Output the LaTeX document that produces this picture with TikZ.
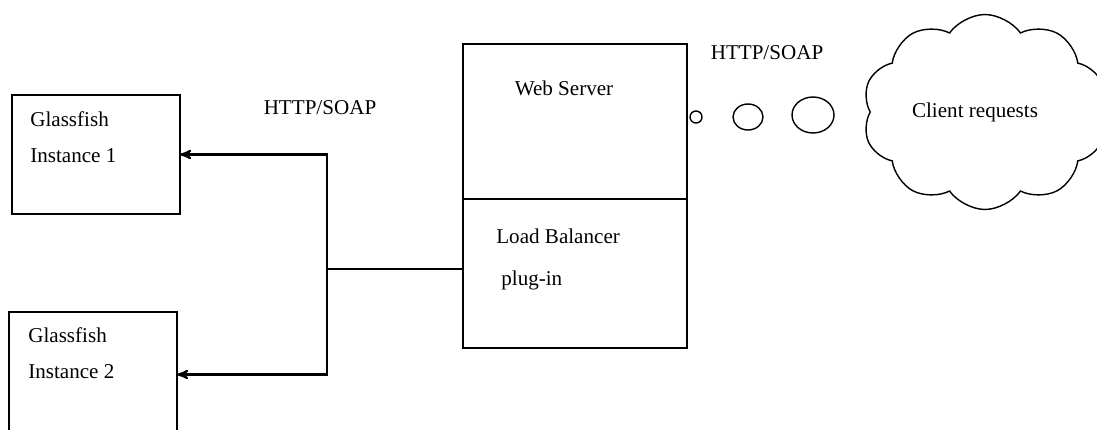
\documentclass[tikz,border=0pt]{standalone}
\usepackage{fontspec}
\setmainfont{Liberation Serif}
\usepackage{tikz}
\usetikzlibrary{arrows,calc,positioning,shapes.geometric,shapes.symbols}
\tikzset{
    >=stealth',
    boks/.style={
           rectangle,
           draw=black, line width=1.1pt,
           minimum width=3.36cm,
           outer sep=0pt,
           inner sep=0pt},
    tekst/.style={
           inner sep=0pt,
           font=\fontsize{12}{14}\selectfont},
    boble/.style={
           ellipse,
           draw=black, line width=0.8pt,
           inner sep=0pt},
    sky/.style={
           cloud, cloud puffs=10, cloud puff arc=110, aspect=1.3,
           draw=black, line width=0.8pt,
           minimum width=4.9cm, minimum height=3.9cm,
           inner sep=0pt},
    pil/.style={
           ->,
           line width=1.2pt}
}

\begin{document}
\begin{tikzpicture}[x=0.02cm, y=-0.02cm]
        \useasboundingbox (0,0) rectangle (1097,429);

        % the boxes
        \node[boks, minimum height=2.38cm] (g1) at (96,154.5) {};
        \node[boks, minimum height=2.5cm] (g2) at (93,374.5) {};
        \node[boks, minimum width=4.48cm, minimum height=3.1cm] (web) at (575,121.5) {};
        \node[boks, minimum width=4.48cm, minimum height=2.98cm, below=0pt of web] (lb) {};

        \node[tekst, anchor=west] (g1a) at (30,119) {Glassfish};
        \node[tekst, anchor=west] (g1b) at (30,156) {Instance 1};
        \node[tekst, anchor=west] (g2a) at (28,335) {Glassfish};
        \node[tekst, anchor=west] (g2b) at (28,372) {Instance 2};
        \node[tekst] (ws) at (564,88) {Web Server};
        \node[tekst, anchor=west] (lba) at (496,236) {Load Balancer};
        \node[tekst, anchor=west] (lbb) at (501,280) {plug-in};
        \node[tekst] (h1) at (320,108) {HTTP/SOAP};
        \node[tekst] (h2) at (767,53) {HTTP/SOAP};

        % bubbles and cloud
        \node[boble, minimum width=0.24cm, minimum height=0.24cm] (b1) at (696,117) {};
        \node[boble, minimum width=0.6cm, minimum height=0.52cm] (b2) at (748,117) {};
        \node[boble, minimum width=0.84cm, minimum height=0.72cm] (b3) at (813,115) {};
        \node[sky] (sky) at (985,112) {};
        \node[tekst] (cr) at (975,112) {Client requests};

        % connectors
        \coordinate (j) at (327,269);
        \draw[line width=1.1pt] (lb.west |- j) -- (j);
        \draw[pil] (j) |- (g1.east);
        \draw[pil] (j) |- (g2.east);
\end{tikzpicture}
\end{document}
